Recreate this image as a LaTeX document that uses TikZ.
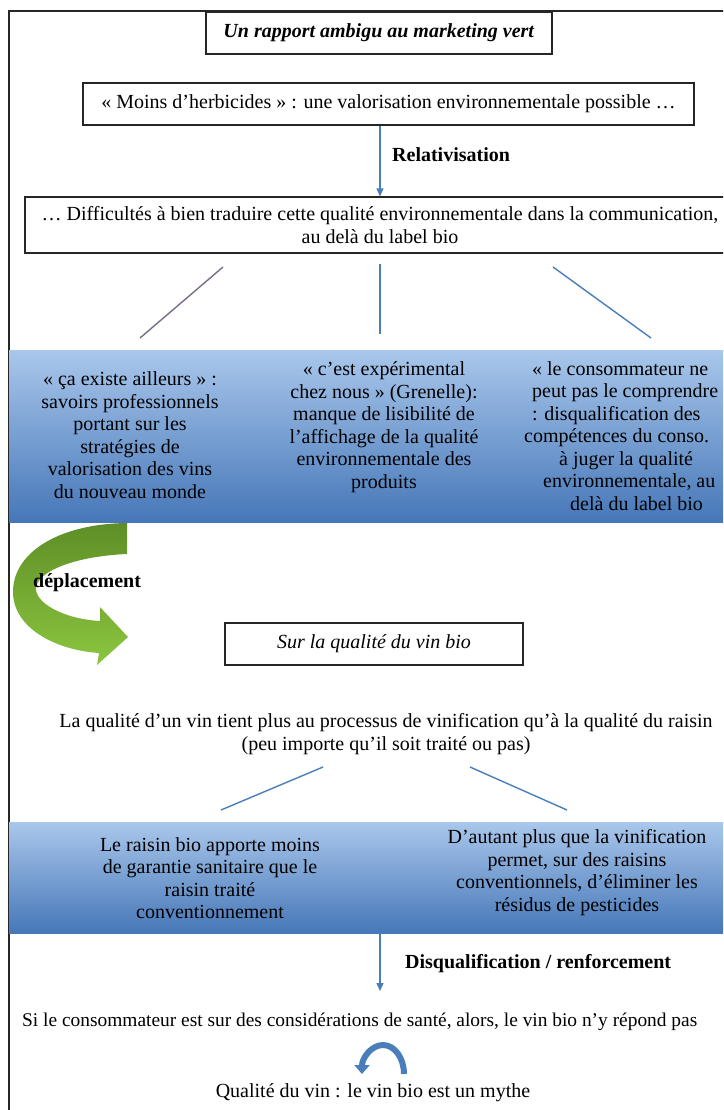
\documentclass[tikz,border=0pt]{standalone}
\usepackage{fontspec}
\setmainfont{Liberation Serif}
\usetikzlibrary{arrows.meta}
\definecolor{linkblue}{HTML}{4A7EBB}
\definecolor{bandtop}{HTML}{A9C7EB}
\definecolor{bandbot}{HTML}{4677B8}
\definecolor{greentop}{HTML}{5E8E27}
\definecolor{greenbot}{HTML}{8CC63F}
\definecolor{linkgrey}{HTML}{7A6E84}

\tikzset{
  framebox/.style={draw=black!85, line width=1.1pt, fill=white, minimum height=42pt, inner sep=3pt, align=center, font=\fontsize{20}{22.5}\selectfont},
  plain/.style={align=center, font=\fontsize{20}{22.5}\selectfont, inner sep=0pt},
  label/.style={font=\fontsize{20}{22.5}\selectfont\bfseries, inner sep=0pt, anchor=west},
  band/.style={shade, top color=bandtop, bottom color=bandbot, minimum width=714pt, inner sep=0pt},
  flow/.style={draw=linkblue, line width=1.4pt, -{Triangle[length=8pt,width=7pt]}},
  link/.style={draw=linkblue, line width=1.4pt},
}

\begin{document}
\begin{tikzpicture}[x=1pt,y=-1pt]
  \useasboundingbox (0,0) rectangle (723,1110);
  \clip (0,0) rectangle (723,1110);
  \fill[white] (0,0) rectangle (723,1110);
  \draw[black!85, line width=1.4pt] (9,1112) -- (9,11) -- (730,11);

  % Define nodes
  \node[framebox, minimum width=346pt] (title) at (379,33) {\textbf{\textit{Un rapport ambigu au marketing vert}}};
  \node[framebox, minimum width=611pt] (herbi) at (388.5,104) {« Moins d’herbicides » : une valorisation environnementale possible …};
  \node[framebox, minimum width=710pt, minimum height=56pt, inner sep=1pt] (diffi) at (380,225) {… Difficultés à bien traduire cette qualité environnementale dans la communication,\\au delà du label bio};
  \node[label] (rel) at (392,155) {Relativisation};

  \node[band, minimum height=172pt] (band1) at (366,436) {};
  \node[plain] (ailleurs) at (130,435) {« ça existe ailleurs » :\\savoirs professionnels\\portant sur les\\stratégies de\\valorisation des vins\\du nouveau monde};
  \node[plain] (experim) at (384,427) {« c’est expérimental\\chez nous » (Grenelle):\\manque de lisibilité de\\l’affichage de la qualité\\environnementale des\\produits};
  \node[plain, align=left, anchor=west] (conso) at (524,436) {\hspace*{0.4em}« le consommateur ne\\\hspace*{0.4em}peut pas le comprendre\\\hspace*{0.4em}: disqualification des\\compétences du conso.\\\hspace*{1.75em}à juger la qualité\\\hspace*{0.95em}environnementale, au\\\hspace*{2.3em}delà du label bio};

  \coordinate (l1a) at (223,267);
  \coordinate (l1b) at (140,338);
  \coordinate (l2a) at (380,264);
  \coordinate (l2b) at (380,334);
  \coordinate (l3a) at (553,267);
  \coordinate (l3b) at (651,338);

  % green curved arrow
  \shade[top color=greentop, bottom color=greenbot]
    (127,523) .. controls (55,524) and (12,555) .. (13,593)
    .. controls (14,628) and (55,650) .. (99,653)
    -- (97,665) -- (128,637) -- (100,607) -- (100,621)
    .. controls (64,619) and (34,603) .. (36,587)
    .. controls (40,569) and (80,556) .. (127,554) -- cycle;
  \node[label] (depl) at (33,583) {déplacement};

  \node[framebox, minimum width=298pt] (surbio) at (374,644) {\textit{Sur la qualité du vin bio}};
  \node[plain] (vinif) at (386,734) {La qualité d’un vin tient plus au processus de vinification qu’à la qualité du raisin\\(peu importe qu’il soit traité ou pas)};

  \coordinate (m1a) at (323,767);
  \coordinate (m1b) at (221,810);
  \coordinate (m2a) at (470,767);
  \coordinate (m2b) at (567,810);

  \node[band, minimum height=111pt] (band2) at (366,877.5) {};
  \node[plain] (raisin) at (210,878) {Le raisin bio apporte moins\\de garantie sanitaire que le\\raisin traité\\conventionnement};
  \node[plain] (residus) at (577,872.5) {D’autant plus que la vinification\\permet, sur des raisins\\conventionnels, d’éliminer les\\résidus de pesticides};

  \node[label] (disq) at (405,964) {Disqualification / renforcement};
  \node[plain, anchor=west, font=\fontsize{19.4}{22}\selectfont] (sante) at (22,1022) {Si le consommateur est sur des considérations de santé, alors, le vin bio n’y répond pas};
  \node[plain] (mythe) at (373,1093) {Qualité du vin : le vin bio est un mythe};
  \coordinate (d1) at (380,933);
  \coordinate (d2) at (380,991);
  \coordinate (u1) at (404,1074);

  % Connect the nodes
  \draw[flow] (herbi.south -| diffi.north) -- (diffi.north);
  \draw[line width=1.4pt, linkgrey] (l1a) -- (l1b);
  \draw[link] (l2a) -- (l2b);
  \draw[link] (l3a) -- (l3b);
  \draw[link] (m1a) -- (m1b);
  \draw[link] (m2a) -- (m2b);
  \draw[flow] (d1) -- (d2);
  \draw[linkblue, line width=6pt, -{Triangle[length=9pt,width=15pt]}] (u1) arc[start angle=0, end angle=180, x radius=21pt, y radius=29pt];
\end{tikzpicture}
\end{document}
